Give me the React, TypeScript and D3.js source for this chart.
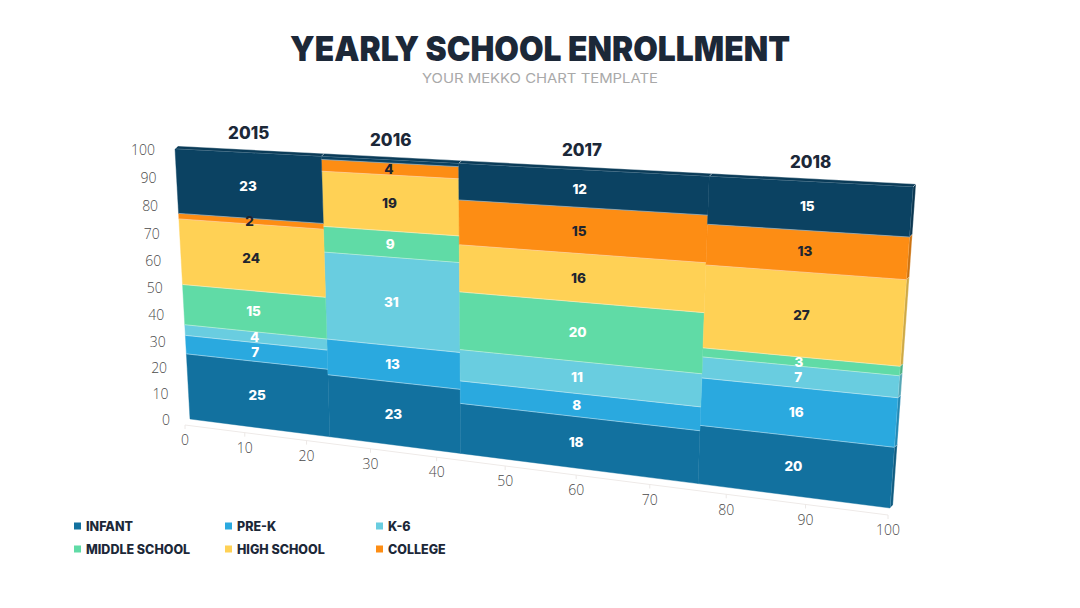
import React from "react";
import * as d3 from "d3";

const years = ["2015", "2016", "2017", "2018"];
const widths = [23, 20, 33, 24];
const seriesNames = ["INFANT", "PRE-K", "K-6", "MIDDLE SCHOOL", "HIGH SCHOOL", "COLLEGE", "OTHER"];
const infant = [25, 23, 18, 20];
const preK = [7, 13, 8, 16];
const k6 = [4, 31, 11, 7];
const middle = [15, 9, 20, 3];
const high = [24, 19, 16, 27];
const college = [2, 4, 15, 13];
const other = [23, 1, 12, 15];
const seriesColors = ["#12719f", "#2aa9df", "#69cde0", "#60dba6", "#ffd155", "#fd8d14", "#0b4262"];
const darkText = ["HIGH SCHOOL", "COLLEGE"];
const legendNames = ["INFANT", "PRE-K", "K-6", "MIDDLE SCHOOL", "HIGH SCHOOL", "COLLEGE"];
const xTicks = [0, 10, 20, 30, 40, 50, 60, 70, 80, 90, 100];
const yTicks = [0, 10, 20, 30, 40, 50, 60, 70, 80, 90, 100];

type Pt = [number, number];

// projective map of the unit square onto the chart's front face
function makeHomography(p00: Pt, p10: Pt, p11: Pt, p01: Pt) {
  const [x0, y0] = p00, [x1, y1] = p10, [x2, y2] = p11, [x3, y3] = p01;
  const dx1 = x1 - x2, dx2 = x3 - x2, dy1 = y1 - y2, dy2 = y3 - y2;
  const sx = x0 - x1 + x2 - x3, sy = y0 - y1 + y2 - y3;
  const det = dx1 * dy2 - dx2 * dy1;
  const g = (sx * dy2 - dx2 * sy) / det;
  const h = (dx1 * sy - sx * dy1) / det;
  const a = x1 - x0 + g * x1, b = x3 - x0 + h * x3, c = x0;
  const d = y1 - y0 + g * y1, e = y3 - y0 + h * y3, f = y0;
  return (u: number, v: number): Pt => {
    const w = g * u + h * v + 1;
    return [(a * u + b * v + c) / w, (d * u + e * v + f) / w];
  };
}

const P = makeHomography([190, 419], [890, 508], [913, 187], [175, 149]);

export default function App() {
  const table = years.map((y, i) => ({
    year: y,
    INFANT: infant[i],
    "PRE-K": preK[i],
    "K-6": k6[i],
    "MIDDLE SCHOOL": middle[i],
    "HIGH SCHOOL": high[i],
    COLLEGE: college[i],
    OTHER: other[i],
  }));
  const stacked = d3.stack<any>().keys(seriesNames).offset(d3.stackOffsetExpand)(table);
  const ends = Array.from(d3.cumsum(widths));
  const starts = ends.map((e, i) => e - widths[i]);
  const total = d3.sum(widths);
  const xs = d3.scaleLinear().domain([0, total]).range([0, 1]);
  const vs = d3.scaleLinear().domain([0, 1]).range([0, 1]);
  const yAxis = d3.scaleLinear().domain([0, 100]).range([0, 1]);
  const color = d3.scaleOrdinal<string, string>().domain(seriesNames).range(seriesColors);

  const fmt = (p: Pt) => p[0].toFixed(2) + "," + p[1].toFixed(2);
  const poly = (pts: Pt[]) => "M" + pts.map(fmt).join("L") + "Z";
  const off: Pt = [3, -3];
  const add = (p: Pt, o: Pt): Pt => [p[0] + o[0], p[1] + o[1]];

  const floor = (u: number): Pt => {
    const p = P(u, 0);
    return [p[0] - 5 + 3 * u, p[1] + 6 + 1 * u];
  };

  const font = "Inter, 'Noto Sans', sans-serif";
  const dark = "#1c2838";

  const segs: any[] = [];
  const edges: any[] = [];
  const labels: any[] = [];
  stacked.forEach((layer) => {
    layer.forEach((d, i) => {
      const u0 = xs(starts[i]), u1 = xs(ends[i]);
      const v0 = vs(d[0]), v1 = vs(d[1]);
      const val = (table[i] as any)[layer.key];
      segs.push({ key: layer.key + i, path: poly([P(u0, v0), P(u1, v0), P(u1, v1), P(u0, v1)]), fill: color(layer.key) });
      if (d[0] > 0) edges.push({ key: "e" + layer.key + i, path: "M" + fmt(P(u0, v0)) + "L" + fmt(P(u1, v0)) });
      if (val >= 2) {
        const c = P((u0 + u1) / 2, (v0 + v1) / 2);
        labels.push({ key: "l" + layer.key + i, x: c[0], y: c[1], text: String(val), fill: darkText.includes(layer.key) ? "#1f2530" : "#ffffff" });
      }
    });
  });

  // top faces
  const topFaces = years.map((y, i) => {
    const u0 = xs(starts[i]), u1 = xs(ends[i]);
    const a = P(u0, 1), b = P(u1, 1);
    return { key: "t" + i, path: poly([a, b, add(b, off), add(a, off)]), fill: d3.color(seriesColors[6])!.darker(0.3).toString() };
  });
  // right side faces
  const last = years.length - 1;
  const sideFaces = stacked.map((layer) => {
    const d = layer[last];
    const a = P(1, vs(d[0])), b = P(1, vs(d[1]));
    return { key: "s" + layer.key, path: poly([a, b, add(b, off), add(a, off)]), fill: d3.color(color(layer.key))!.darker(0.6).toString() };
  });

  const legendCols = [74, 225, 376];
  const legendRows = [526, 549];

  return (
    <div style={{ position: "absolute", left: 0, top: 0 }}>
      <svg width={1080} height={608} style={{ display: "block", background: "#ffffff" }}>
        <text x={540} y={61} textAnchor="middle" fontFamily={font} fontWeight={900} fontSize={34} fill={dark} textLength={500} lengthAdjust="spacingAndGlyphs">
          YEARLY SCHOOL ENROLLMENT
        </text>
        <text x={540} y={83} textAnchor="middle" fontFamily={font} fontWeight={400} fontSize={13} fill="#a9a9a9" textLength={236} lengthAdjust="spacingAndGlyphs">
          YOUR MEKKO CHART TEMPLATE
        </text>

        {/* floor axis */}
        <path d={"M" + fmt(floor(0)) + "L" + fmt(floor(1))} stroke="#eeeae8" strokeWidth={1} fill="none" />
        {xTicks.map((t) => {
          const u = xs((t / 100) * total);
          const p = floor(u);
          return (
            <g key={"xt" + t}>
              <line x1={p[0]} y1={p[1]} x2={p[0]} y2={p[1] + 4} stroke="#ece8e6" />
              <text x={p[0]} y={p[1] + 16.5} textAnchor="middle" dominantBaseline="middle" fontFamily="'Open Sans', sans-serif" fontWeight={300} fontSize={14} fill="#4a4a4a">
                {t}
              </text>
            </g>
          );
        })}
        {yTicks.map((t) => {
          const p = P(0, yAxis(t));
          return (
            <text key={"yt" + t} x={p[0] - 20} y={p[1] + 2.5} textAnchor="end" dominantBaseline="middle" fontFamily="'Open Sans', sans-serif" fontWeight={300} fontSize={14} fill="#4a4a4a">
              {t}
            </text>
          );
        })}

        {/* side + top faces */}
        {sideFaces.map((s) => (
          <path key={s.key} d={s.path} fill={s.fill} stroke="#ffffff" strokeOpacity={0.5} strokeWidth={0.6} />
        ))}
        {topFaces.map((s) => (
          <path key={s.key} d={s.path} fill={s.fill} stroke="#ffffff" strokeOpacity={0.6} strokeWidth={0.6} />
        ))}

        {segs.map((s) => (
          <path key={s.key} d={s.path} fill={s.fill} stroke={s.fill} strokeWidth={0.4} />
        ))}
        {edges.map((s) => (
          <path key={s.key} d={s.path} fill="none" stroke="#ffffff" strokeOpacity={0.6} strokeWidth={0.7} />
        ))}

        {labels.map((l) => (
          <text key={l.key} x={l.x} y={l.y} textAnchor="middle" dominantBaseline="central" fontFamily={font} fontWeight={800} fontSize={13.5} fill={l.fill}>
            {l.text}
          </text>
        ))}

        {years.map((y, i) => {
          const p = P(xs((starts[i] + ends[i]) / 2), 1);
          return (
            <text key={"y" + y} x={p[0] + 2} y={p[1] - 20} textAnchor="middle" dominantBaseline="central" fontFamily={font} fontWeight={800} fontSize={17} fill={dark}>
              {y}
            </text>
          );
        })}

        {legendNames.map((n, i) => {
          const x = legendCols[i % 3];
          const y = legendRows[Math.floor(i / 3)];
          return (
            <g key={"lg" + n}>
              <rect x={x} y={y - 3.5} width={7} height={7} fill={color(n)} />
              <text x={x + 12} y={y} dominantBaseline="central" fontFamily={font} fontWeight={800} fontSize={12.5} fill={dark}>
                {n}
              </text>
            </g>
          );
        })}
      </svg>
    </div>
  );
}
